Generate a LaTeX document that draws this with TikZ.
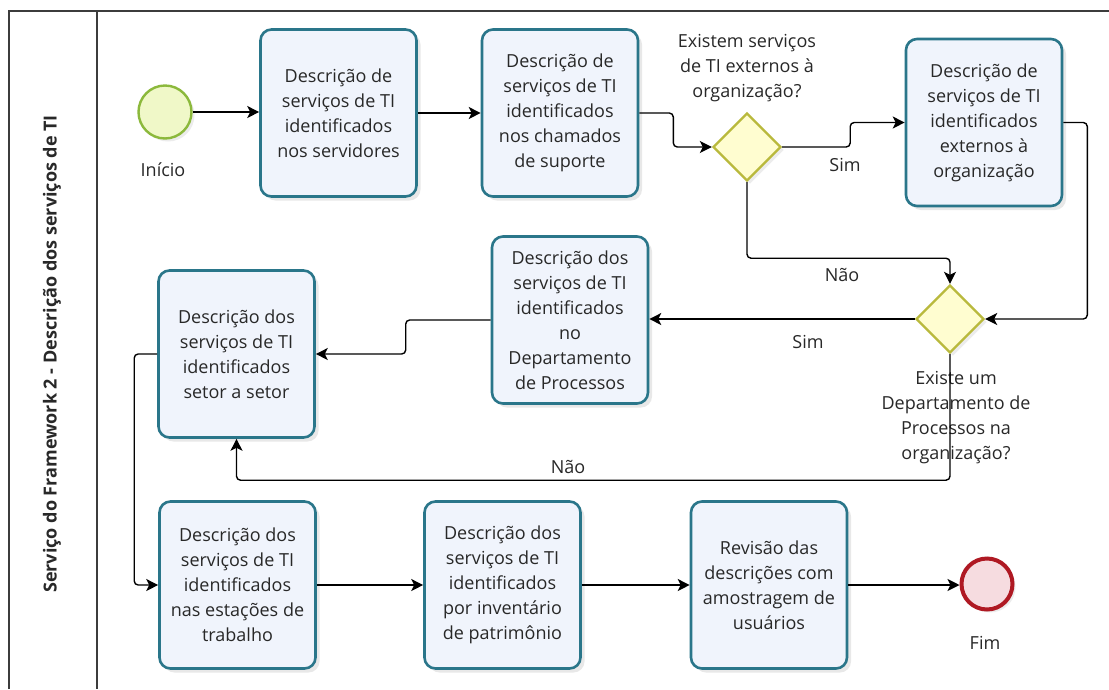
\documentclass[tikz,border=0pt]{standalone}
\usepackage{fontspec}
\setmainfont{Open Sans}
\usetikzlibrary{shapes.geometric,arrows.meta,shadows,calc}
\definecolor{taskborder}{RGB}{42,118,138}
\definecolor{taskfill}{RGB}{240,244,252}
\definecolor{gwborder}{RGB}{185,185,60}
\definecolor{gwfill}{RGB}{255,253,208}
\definecolor{startborder}{RGB}{140,185,60}
\definecolor{startfill}{RGB}{240,248,200}
\definecolor{endborder}{RGB}{175,25,35}
\definecolor{endfill}{RGB}{246,220,224}
\definecolor{txt}{RGB}{40,40,40}
\definecolor{framecol}{RGB}{60,60,60}
\begin{document}
\begin{tikzpicture}[x=1pt,y=-1pt,
  font=\fontsize{18}{25}\selectfont,
  task/.style={draw=taskborder, line width=2.6pt, fill=taskfill, rounded corners=11pt,
    minimum width=156pt, minimum height=167pt, align=center, text=txt, inner sep=0pt,
    drop shadow={opacity=0.18, shadow xshift=4pt, shadow yshift=-4pt}},
  gateway/.style={diamond, draw=gwborder, fill=gwfill, line width=2.4pt,
    minimum width=68pt, minimum height=68pt, inner sep=0pt,
    drop shadow={opacity=0.15, shadow xshift=3pt, shadow yshift=-3pt}},
  startev/.style={circle, draw=startborder, fill=startfill, line width=2.4pt,
    minimum size=53pt, inner sep=0pt,
    drop shadow={opacity=0.15, shadow xshift=3pt, shadow yshift=-3pt}},
  endev/.style={circle, draw=endborder, fill=endfill, line width=4pt,
    minimum size=51pt, inner sep=0pt,
    drop shadow={opacity=0.15, shadow xshift=3pt, shadow yshift=-3pt}},
  flow/.style={draw=black, line width=1.4pt, rounded corners=4pt,
    -{Stealth[length=12pt,width=12pt,inset=3pt]}},
  lbl/.style={text=txt, align=center, inner sep=0pt},
  framel/.style={draw=framecol, line width=1.5pt}
]
\useasboundingbox (0,0) rectangle (1109,689);
\fill[white] (0,0) rectangle (1109,689);
% frame
\draw[framel] (9,689) -- (9,11) -- (1109,11);
\draw[framel] (97,11) -- (97,689);
\node[rotate=90, text=txt, inner sep=0pt, font=\fontsize{18}{20}\selectfont\bfseries] (lane) at (52,354)
  {Serviço do Framework 2 - Descrição dos serviços de TI};

% nodes
\node[startev] (s) at (165,112) {};
\node[lbl] (sl) at (163,170) {Início};
\node[task] (t1) at (338.5,113) {Descrição de\\serviços de TI\\identificados\\nos servidores};
\node[task] (t2) at (560,113) {Descrição de\\serviços de TI\\identificados\\nos chamados\\de suporte};
\node[gateway] (g1) at (747,147) {};
\node[lbl] (g1l) at (747,68) {Existem serviços\\de TI externos à\\organização?};
\node[task] (t3) at (984,122.5) {Descrição de\\serviços de TI\\identificados\\externos à\\organização};
\node[gateway] (g2) at (950,319) {};
\node[lbl] (g2l) at (956,418) {Existe um\\Departamento de\\Processos na\\organização?};
\node[task] (t4) at (570,320) {Descrição dos\\serviços de TI\\identificados\\no\\Departamento\\de Processos};
\node[task] (t5) at (236.5,354) {Descrição dos\\serviços de TI\\identificados\\setor a setor};
\node[task] (t6) at (237.5,585) {Descrição dos\\serviços de TI\\identificados\\nas estações de\\trabalho};
\node[task] (t7) at (502.5,585) {Descrição dos\\serviços de TI\\identificados\\por inventário\\de patrimônio};
\node[task] (t8) at (769,585) {Revisão das\\descrições com\\amostragem de\\usuários};
\node[endev] (e) at (987,584) {};
\node[lbl] (el) at (985,643) {Fim};

% flow labels
\node[lbl] (sim1) at (845,165) {Sim};
\node[lbl] (nao1) at (842,275) {Não};
\node[lbl] (sim2) at (808,342) {Sim};
\node[lbl] (nao2) at (568,467) {Não};

% connectors
\draw[flow] (s.east) -- (s.east -| t1.west);
\draw[flow] (t1) -- (t2);
\draw[flow] (t2.east) -- ++(34,0) |- (g1.west);
\draw[flow] (g1.east) -- ++(68,0) |- (t3.west);
\draw[flow] (g1.south) -- ++(0,76) -| (g2.north);
\draw[flow] (t3.east) -- ++(24,0) |- (g2.east);
\draw[flow] (g2.west) -- (g2.west -| t4.east);
\draw[flow] (t4.west) -- ++(-85,0) |- (t5.east);
\draw[flow] (g2.south) -- ++(0,126) -| (t5.south);
\draw[flow] (t5.west) -- ++(-23,0) |- (t6.west);
\draw[flow] (t6) -- (t7);
\draw[flow] (t7) -- (t8);
\draw[flow] (t8.east) -- (t8.east -| e.west);
\end{tikzpicture}
\end{document}
